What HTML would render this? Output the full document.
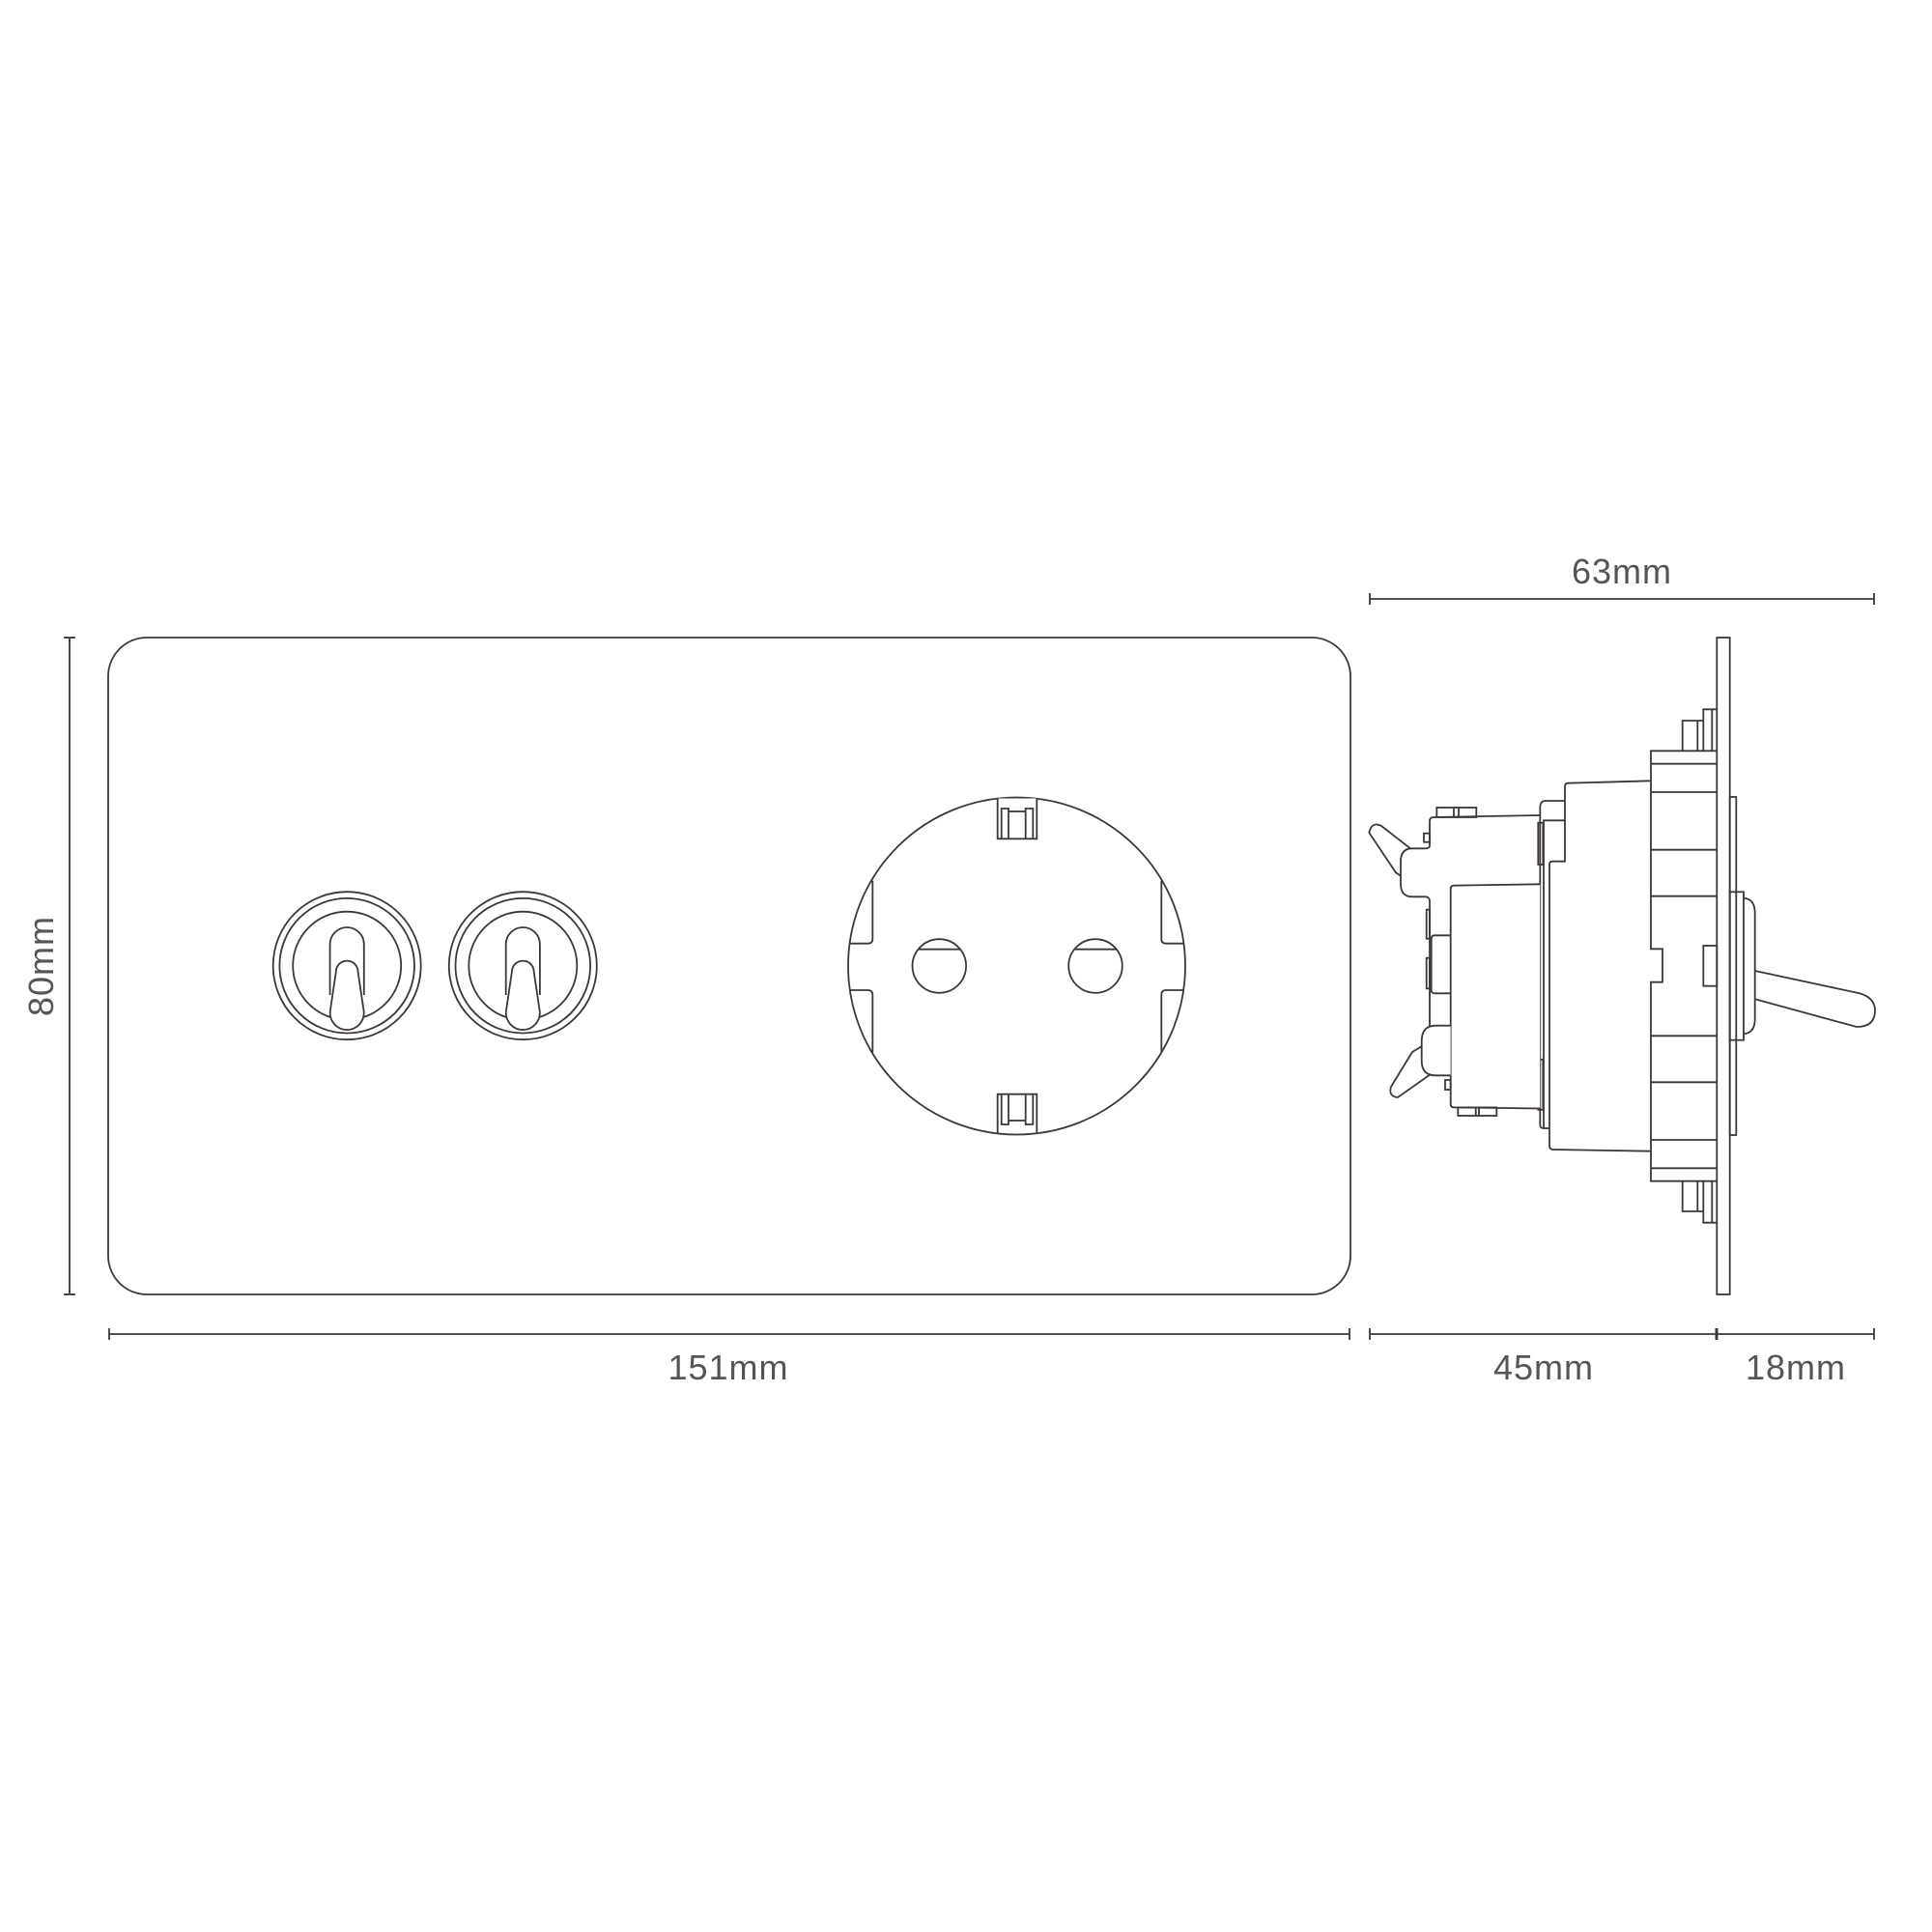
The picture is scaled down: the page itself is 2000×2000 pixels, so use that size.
<!DOCTYPE html>
<html><head><meta charset="utf-8"><style>
html,body{margin:0;padding:0;background:#fff}
svg{display:block}
text{font-family:"Liberation Sans",sans-serif;font-size:36px;fill:#555;letter-spacing:1px}
</style></head><body>
<svg width="2000" height="2000" viewBox="0 0 2000 2000" xmlns="http://www.w3.org/2000/svg">
<g fill="none" stroke="#3d3836" stroke-width="1.8">
<rect x="112" y="660" width="1286" height="680" rx="40" ry="40" fill="#fff"/>
<line x1="72" y1="660" x2="72" y2="1340"/>
<line x1="66" y1="660" x2="78" y2="660"/>
<line x1="66" y1="1340" x2="78" y2="1340"/>
<line x1="113" y1="1381" x2="1397" y2="1381"/>
<line x1="113" y1="1375" x2="113" y2="1387"/>
<line x1="1397" y1="1375" x2="1397" y2="1387"/>
<line x1="1418" y1="620" x2="1940" y2="620"/>
<line x1="1418" y1="614" x2="1418" y2="626"/>
<line x1="1940" y1="614" x2="1940" y2="626"/>
<line x1="1418" y1="1381" x2="1940" y2="1381"/>
<line x1="1418" y1="1375" x2="1418" y2="1387"/>
<line x1="1777" y1="1375" x2="1777" y2="1387" stroke-width="3"/>
<line x1="1940" y1="1375" x2="1940" y2="1387"/>

<g id="t1">
<circle cx="359.2" cy="999.7" r="76.5"/>
<circle cx="359.2" cy="999.7" r="69.8"/>
<circle cx="359.2" cy="999.7" r="56"/>
<path d="M341.6 1030 V977.6 A17.6 17.6 0 0 1 376.8 977.6 V1030" fill="#fff"/>
<path d="M347.8 1006 A11.4 11.4 0 0 1 370.6 1006 L376.6 1046.7 A17.5 17.5 0 1 1 341.8 1046.7 Z" fill="#fff"/>
</g>
<use href="#t1" transform="translate(182.1 0)"/>

<circle cx="1052.5" cy="1000" r="174.5"/>
<path d="M1032.7 826.5 V868.3 H1073.3 V826.5" fill="#fff"/>
<path d="M1036.7 868 V837 H1044 V868 M1061.7 868 V837 H1069.3 V868 M1044 840 H1061.7"/>
<path d="M1032.7 1173.7 V1132.7 H1073.3 V1173.7"/>
<path d="M1036.7 1133 V1164 H1044 V1133 M1061.7 1133 V1164 H1069.3 V1133 M1044 1160 H1061.7"/>
<path d="M903.3 911.7 V972 Q903.3 976.7 898.5 976.7 H880"/>
<path d="M880 1025 H898.5 Q903.3 1025 903.3 1030 V1089.3"/>
<path d="M1202.3 911.7 V972 Q1202.3 976.7 1207 976.7 H1226"/>
<path d="M1226 1025 H1207 Q1202.3 1025 1202.3 1030 V1089.3"/>
<circle cx="972.3" cy="1000" r="27.8"/>
<circle cx="1134" cy="1000" r="27.8"/>
<line x1="950" y1="982.7" x2="994.6" y2="982.7"/>
<line x1="1111.7" y1="982.7" x2="1156.3" y2="982.7"/>

<rect x="1777.3" y="660" width="13.4" height="680"/>
<rect x="1790.7" y="825" width="6.6" height="350"/>
<rect x="1790.7" y="923.3" width="14.3" height="153.4"/>
<path d="M1805 930 H1807 Q1816.7 932 1816.7 945 V1055 Q1816.7 1068 1807 1070 H1805"/>
<path d="M1816.7 1005 L1925 1028.3 Q1941 1033 1941 1046 Q1941 1063 1922 1063 L1816.7 1034.3"/>
<path d="M1763.3 777.3 V734.3 H1777.3 M1772.3 734.3 V777.3"/>
<path d="M1741.7 777.3 V746 H1763.3 M1757.3 746 V777.3"/>
<path d="M1763.3 1222.7 V1265.7 H1777.3 M1772.3 1265.7 V1222.7"/>
<path d="M1741.7 1222.7 V1254 H1763.3 M1757.3 1254 V1222.7"/>
<path d="M1777.3 777.3 H1709 V982.3 H1721 V1016.7 H1709 V1222.7 H1777.3"/>
<path d="M1709 790.7 H1777.3 M1709 820 H1777.3 M1709 879.7 H1777.3 M1709 927.7 H1777.3 M1709 1072.3 H1777.3 M1709 1120.3 H1777.3 M1709 1180 H1777.3 M1709 1209.3 H1777.3"/>
<rect x="1763.3" y="979" width="14" height="41.7"/>
<path d="M1709 808.3 L1623 810.7 Q1620 811 1620 814 V891.7 H1607 Q1604 891.7 1604 895 V1186 Q1604 1190 1608 1190 L1709 1191.7"/>
<path d="M1620 829 H1600 Q1594.3 829 1594.3 836 V1164 Q1594.3 1168 1598 1168 H1604"/>
<path d="M1620 849.3 H1598 V1168"/>
<rect x="1592.3" y="851.7" width="5" height="43.3"/>
<rect x="1592.3" y="1096.8" width="5" height="52"/>
<path d="M1594.3 844 L1484 846 Q1480 846 1480 850 V875 Q1480 878.3 1476 878.3 H1462 Q1450 878.3 1450 892 V915 Q1450 928.3 1462 928.3 H1476 Q1480 929 1480 933 V1105"/>
<rect x="1487.3" y="836" width="41" height="10"/>
<path d="M1505 836 V846 M1510 836 V846"/>
<rect x="1474" y="862.7" width="6" height="9"/>
<rect x="1476.7" y="941.7" width="3.3" height="30"/>
<rect x="1476.7" y="991.7" width="3.3" height="31.6"/>
<path d="M1501.7 968.3 H1485 Q1481.7 968.3 1481.7 972 V1025 Q1481.7 1028.3 1485 1028.3 H1501.7"/>
<path d="M1594.3 915.3 L1505 916.7 Q1501.7 917 1501.7 920 V1143 Q1501.7 1146.4 1505 1146.4 L1594.3 1147.5" fill="#fff"/>
<rect x="1509.3" y="1146.4" width="40" height="8.6"/>
<path d="M1527.7 1146.4 V1155 M1531 1146.4 V1155"/>
<rect x="1496" y="1118" width="5.7" height="10"/>
<path d="M1501.7 1061.7 H1486 Q1471.7 1061.7 1471.7 1078 V1098 Q1471.7 1113.3 1486 1113.3 H1501.7" fill="#fff"/>
<path d="M1460 878.3 L1430 855 Q1420 850 1417.3 862 L1445 903.3 L1450 906.7"/>
<path d="M1472 1083 L1462 1089 L1440 1125 Q1437 1135 1447 1136 L1481 1112"/>
</g>
<g>
<text x="1679" y="604" text-anchor="middle">63mm</text>
<text x="754" y="1428" text-anchor="middle">151mm</text>
<text x="1598" y="1428" text-anchor="middle">45mm</text>
<text x="1859" y="1428" text-anchor="middle">18mm</text>
<text x="0" y="0" text-anchor="middle" transform="translate(55 1000) rotate(-90)">80mm</text>
</g>
</svg>
</body></html>
